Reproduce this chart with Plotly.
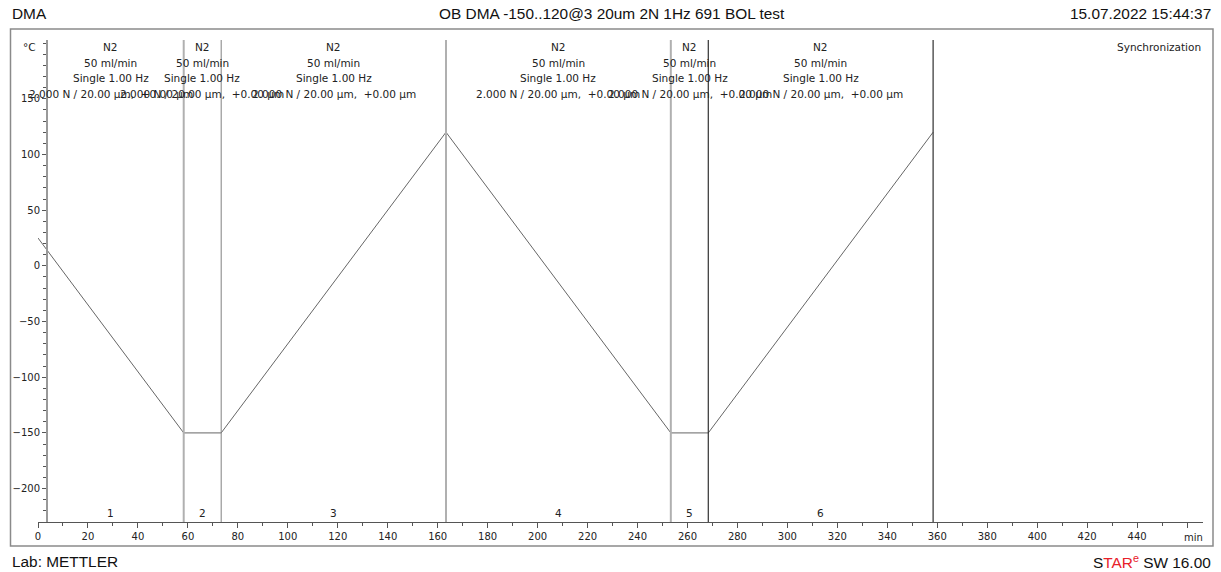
import plotly.graph_objects as go

# ---- data ----
time_min = [0, 58.33, 73.33, 163.33, 253.33, 268.33, 358.33]
temp_c = [25, -150, -150, 120, -150, -150, 120]

seg_bounds = [0, 58.33, 73.33, 163.33, 253.33, 268.33, 358.33]
seg_names = ["1", "2", "3", "4", "5", "6"]
seg_line_colors = ["#b0b0b0", "#808080", "#b0b0b0", "#b0b0b0", "#303030", "#303030"]
seg_line_widths = [2, 1, 2, 2, 1.2, 1.2]
seg_text = ["N2", "50 ml/min", "Single 1.00 Hz", "2.000 N / 20.00 µm,  +0.00 µm"]

x_ticks = list(range(0, 461, 20))
x_ticktext = [str(v) for v in x_ticks[:-1]] + [""]
y_ticks = [-200, -150, -100, -50, 0, 50, 100, 150]

W, H = 1221, 572
L, R, T, B = 38, 18, 40, 50
PW = W - L - R
PH = H - T - B

X_MAX = PW / 2.498
Y_MIN, Y_MAX = -230, 202.8

fig = go.Figure()
fig.add_trace(go.Scatter(x=time_min, y=temp_c, mode="lines",
                         line=dict(color="#666666", width=1), hoverinfo="skip",
                         showlegend=False))


def pix(x, y):
    return (x - L) / PW, 1 - (y - T) / PH


small = dict(family="DejaVu Sans", size=10.5, color="#222")
tickf = dict(family="DejaVu Sans", size=10, color="#222")
shapes = []
annotations = []
for i, name in enumerate(seg_names):
    end = seg_bounds[i + 1] if i + 1 < len(seg_bounds) else 358.33
    xc = (seg_bounds[i] + end) / 2
    shapes.append(dict(type="line", xref="x", yref="paper", x0=end, x1=end, y0=0, y1=1,
                       line=dict(color=seg_line_colors[i], width=seg_line_widths[i])))
    for j, txt in enumerate(seg_text):
        annotations.append(dict(x=xc, xref="x", y=pix(0, 47 + j * 15.7)[1], yref="paper",
                                text=txt, showarrow=False, font=small,
                                xanchor="center", yanchor="middle"))
    annotations.append(dict(x=xc, xref="x", y=pix(0, 513)[1], yref="paper", text=name,
                            showarrow=False, font=small, xanchor="center", yanchor="middle"))

head = dict(family="Liberation Sans", size=15.4, color="#111")

for (px, py, txt, anc, fnt) in [
    (10, 14, "DMA", "left", head),
    (612, 14, "OB DMA -150..120@3 20um 2N 1Hz 691 BOL test", "center", head),
    (1213, 14, "15.07.2022 15:44:37", "right", head),
    (10, 561, "Lab: METTLER", "left", head),
    (1213, 561, "S<span style='color:#e8202a'>TAR<sup>e</sup></span> SW 16.00", "right", head),
    (1203, 47, "Synchronization", "right", small),
    (38, 47, "°C", "right", small),
    (1193, 537, "min", "center", tickf),
]:
    ax, ay = pix(px, py)
    annotations.append(dict(x=ax, y=ay, xref="paper", yref="paper", text=txt,
                            showarrow=False, xanchor=anc, yanchor="middle", font=fnt))

# outer frame
fx0, fy0 = pix(10.5, 29)
fx1, fy1 = pix(1213, 546)
shapes.append(dict(type="rect", xref="paper", yref="paper", x0=fx0, x1=fx1, y0=fy1, y1=fy0,
                   line=dict(color="#8a8a8a", width=1.5), layer="below"))

fig.update_layout(
    width=W, height=H,
    margin=dict(l=L, r=R, t=T, b=B),
    paper_bgcolor="white", plot_bgcolor="white",
    shapes=shapes, annotations=annotations,
    xaxis=dict(range=[0, X_MAX], showgrid=False, zeroline=False, showline=True,
               linecolor="#555", linewidth=1, ticks="outside", ticklen=5, tickcolor="#555",
               tickvals=x_ticks, ticktext=x_ticktext, tickfont=tickf,
               minor=dict(dtick=10, tick0=0, ticks="outside", ticklen=3, tickcolor="#555")),
    yaxis=dict(range=[Y_MIN, Y_MAX], showgrid=False, zeroline=False, showline=True,
               linecolor="#999", linewidth=2, ticks="outside", ticklen=4, tickcolor="#555",
               tickvals=y_ticks, anchor="free", position=(47 - L) / PW, tickfont=tickf,
               minor=dict(dtick=10, tick0=0, ticks="outside", ticklen=3, tickcolor="#555")),
)

fig.write_html("out.html", config={"displayModeBar": False},
               post_script="document.body.style.margin='0';document.body.style.overflow='hidden';")
